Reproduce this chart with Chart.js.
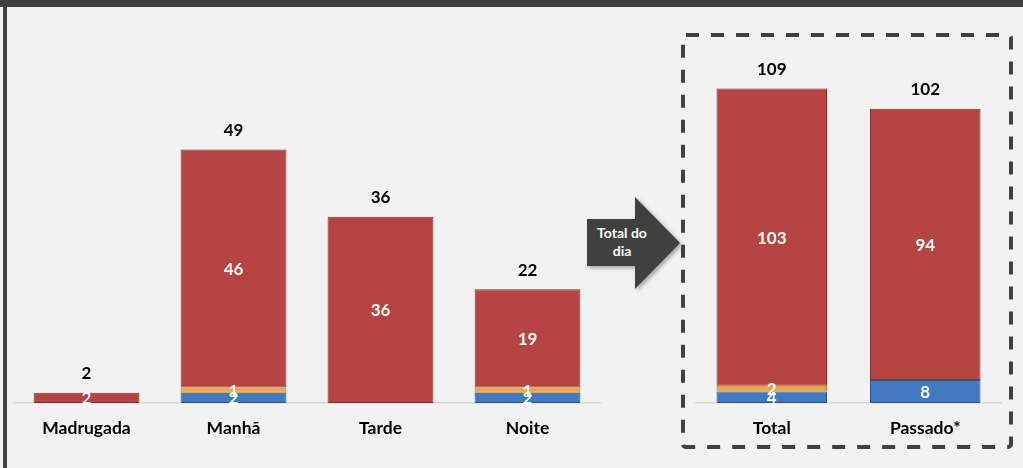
<!DOCTYPE html>
<html lang="pt">
<head>
<meta charset="UTF-8">
<title>Total do dia</title>
<script src="https://cdn.jsdelivr.net/npm/chart.js"></script>
<style>
  html, body { margin: 0; padding: 0; }
  body { width: 1023px; height: 468px; background: #f2f2f2; position: relative; overflow: hidden; font-family: Lato, "Open Sans", sans-serif; }
  .topo { position: absolute; left: 0; top: 0; width: 1023px; height: 7px; background: #404040; }
  .lateral { position: absolute; left: 3px; top: 0; width: 4px; height: 468px; background: #404040; }
  .grafico { position: absolute; top: 0; height: 464px; }
  #caixaPeriodo { left: 13px; width: 588px; }
  #caixaTotal { left: 695px; width: 307px; }
  svg.deco { position: absolute; left: 0; top: 0; }
  .seta-texto { position: absolute; left: 586px; top: 224px; width: 72px; text-align: center; color: #fff; font: bold 14px Lato, sans-serif; line-height: 18px; }
</style>
</head>
<body>
<div class="topo"></div>
<div class="lateral"></div>

<svg class="deco" width="1023" height="468">
  <defs>
    <filter id="sombra" x="-20%" y="-20%" width="140%" height="140%">
      <feDropShadow dx="2" dy="2" stdDeviation="2" flood-color="#000" flood-opacity="0.35"/>
    </filter>
  </defs>
  <!-- seta "Total do dia" -->
  <path d="M587 219 L635 219 L635 197 L680 243 L635 289 L635 266 L587 266 Z" fill="#404040" filter="url(#sombra)"/>
  <!-- caixa tracejada -->
  <rect x="683" y="35" width="328" height="412" rx="3" fill="none" stroke="#404040" stroke-width="4" stroke-dasharray="13 12"/>
</svg>
<div class="seta-texto">Total do<br>dia</div>

<div class="grafico" id="caixaPeriodo"><canvas id="graficoPeriodo"></canvas></div>
<div class="grafico" id="caixaTotal"><canvas id="graficoTotal"></canvas></div>

<script>
  // --- Dados por período ---
  const periodos = ['Madrugada', 'Manhã', 'Tarde', 'Noite'];
  const azulPeriodo = [0, 2, 0, 2];
  const laranjaPeriodo = [0, 1, 0, 1];
  const vermelhoPeriodo = [2, 46, 36, 19];

  // --- Total do dia x passado ---
  const totais = ['Total', 'Passado*'];
  const azulTotal = [4, 8];
  const laranjaTotal = [2, 0];
  const vermelhoTotal = [103, 94];

  const cores = {
    azul: ['#4279c0', '#2c578f'],
    laranja: ['#f4a43a', '#c77a1a'],
    vermelho: ['#b54442', '#8a2e2c']
  };

  // rótulos brancos dentro das barras e total em preto acima
  const rotulos = {
    id: 'rotulos',
    afterDatasetsDraw(chart) {
      const ctx = chart.ctx;
      const sets = chart.data.datasets;
      ctx.save();
      ctx.textAlign = 'center';
      ctx.textBaseline = 'middle';
      ctx.font = 'bold 17px Lato, sans-serif';
      ctx.fillStyle = '#ffffff';
      sets.forEach((ds, i) => {
        chart.getDatasetMeta(i).data.forEach((bar, j) => {
          const v = ds.data[j];
          if (!v) return;
          ctx.fillText(v, bar.x, (bar.y + bar.base) / 2 + 1);
        });
      });
      ctx.fillStyle = '#000000';
      const topo = chart.getDatasetMeta(sets.length - 1);
      chart.data.labels.forEach((l, j) => {
        const total = sets.reduce((s, ds) => s + (ds.data[j] || 0), 0);
        ctx.fillText(total, topo.data[j].x, topo.data[j].y - 19);
      });
      ctx.restore();
    }
  };

  function serie(nome, dados, cor) {
    return {
      label: nome,
      data: dados,
      backgroundColor: cor[0],
      borderColor: cor[1],
      borderWidth: c => (c.raw ? 1 : 0),
      borderSkipped: false,
      barPercentage: 0.72,
      categoryPercentage: 1
    };
  }

  function criarGrafico(id, labels, azul, laranja, vermelho, maxY, topoPad) {
    new Chart(document.getElementById(id), {
      type: 'bar',
      data: {
        labels: labels,
        datasets: [
          serie('Azul', azul, cores.azul),
          serie('Laranja', laranja, cores.laranja),
          serie('Vermelho', vermelho, cores.vermelho)
        ]
      },
      options: {
        responsive: true,
        maintainAspectRatio: false,
        animation: false,
        layout: { padding: { top: topoPad, bottom: 10, left: 0, right: 0 } },
        plugins: { legend: { display: false }, tooltip: { enabled: false } },
        scales: {
          x: {
            stacked: true,
            grid: { drawOnChartArea: false, drawTicks: false },
            border: { color: '#d9d9d9', width: 1.5 },
            ticks: { color: '#000', padding: 15, font: { family: 'Lato, sans-serif', size: 17.5, weight: 'bold' } }
          },
          y: { stacked: true, display: false, min: 0, max: maxY }
        }
      },
      plugins: [rotulos]
    });
  }

  document.addEventListener('DOMContentLoaded', function () {
    criarGrafico('graficoPeriodo', periodos, azulPeriodo, laranjaPeriodo, vermelhoPeriodo, 70, 41);
    criarGrafico('graficoTotal', totais, azulTotal, laranjaTotal, vermelhoTotal, 130, 28);
  });
</script>
</body>
</html>
